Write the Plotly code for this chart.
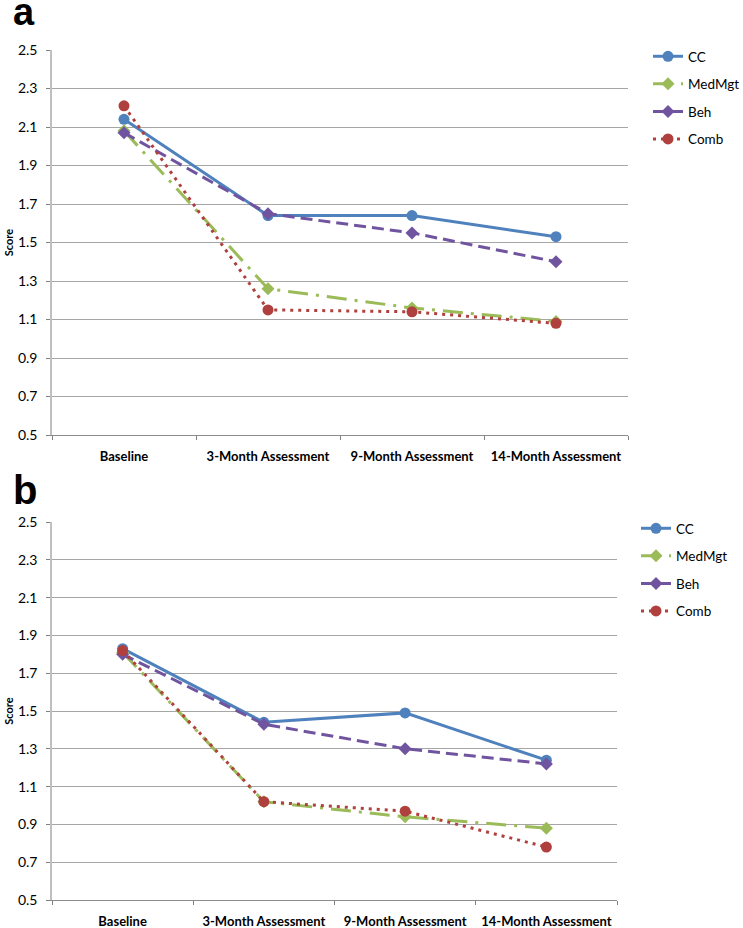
import plotly.graph_objects as go

categories = ["Baseline", "3-Month Assessment", "9-Month Assessment", "14-Month Assessment"]
series_names = ["CC", "MedMgt", "Beh", "Comb"]

a_cc = [2.14, 1.64, 1.64, 1.53]
a_medmgt = [2.08, 1.26, 1.16, 1.09]
a_beh = [2.07, 1.65, 1.55, 1.40]
a_comb = [2.21, 1.15, 1.14, 1.08]

b_cc = [1.83, 1.44, 1.49, 1.24]
b_medmgt = [1.81, 1.02, 0.94, 0.88]
b_beh = [1.80, 1.43, 1.30, 1.22]
b_comb = [1.82, 1.02, 0.97, 0.78]

y_ticks = [0.5, 0.7, 0.9, 1.1, 1.3, 1.5, 1.7, 1.9, 2.1, 2.3, 2.5]

styles = {
    "CC": dict(color="#4F81BD", dash="solid", symbol="circle", msize=11),
    "MedMgt": dict(color="#9BBB59", dash="20px,8px,3px,8px", symbol="diamond", msize=10),
    "Beh": dict(color="#7054A0", dash="12px,6px", symbol="diamond", msize=10),
    "Comb": dict(color="#B0403D", dash="3px,5px", symbol="circle", msize=11),
}

W, H = 743, 928
FONT = "Lato"

fig = go.Figure()

panels = [
    ("x", "y", "legend", [a_cc, a_medmgt, a_beh, a_comb]),
    ("x2", "y2", "legend2", [b_cc, b_medmgt, b_beh, b_comb]),
]
for xa, ya, lg, data in panels:
    for name, vals in zip(series_names, data):
        s = styles[name]
        fig.add_trace(go.Scatter(
            x=categories, y=vals, name=name, mode="lines+markers",
            xaxis=xa, yaxis=ya, legend=lg, legendgroup=name + xa,
            line=dict(color=s["color"], width=3, dash=s["dash"]),
            marker=dict(color=s["color"], symbol=s["symbol"], size=s["msize"]),
        ))

def px_x(v):
    return v / W

def px_y(v):
    return (H - v) / H

grid_col = "#A6A6A6"
axis_col = "#BFBFBF"

def xaxis_cfg(domain, anchor):
    return dict(
        domain=domain, anchor=anchor, type="category", categoryorder="array",
        categoryarray=categories, range=[-0.5, 3.5], tickson="boundaries",
        ticks="outside", ticklen=4, tickcolor="#808080", showgrid=False,
        showline=True, linecolor="#8C8C8C", linewidth=1, zeroline=False,
        tickfont=dict(family=FONT, size=13, color="#000000", weight="bold"),
        ticklabelstandoff=9, automargin=False,
    )

def yaxis_cfg(domain, anchor):
    return dict(
        domain=domain, anchor=anchor, range=[0.5, 2.5], tickvals=y_ticks,
        ticktext=[f"{v:.1f}" for v in y_ticks],
        showgrid=True, gridcolor=grid_col, gridwidth=1,
        showline=True, linecolor=axis_col, linewidth=1.5, zeroline=False,
        ticks="outside", ticklen=4, tickcolor="#808080",
        tickfont=dict(family=FONT, size=14, color="#000000"),
        ticklabelstandoff=6, automargin=False,
        title=dict(text="Score", font=dict(family=FONT, size=11, color="#000000", weight="bold"),
                   standoff=2),
    )

fig.update_layout(
    width=W, height=H,
    margin=dict(l=0, r=0, t=0, b=0, autoexpand=False),
    paper_bgcolor="white", plot_bgcolor="white",
    showlegend=True,
    xaxis=xaxis_cfg([px_x(52), px_x(628)], "y"),
    yaxis=yaxis_cfg([px_y(435), px_y(50)], "x"),
    xaxis2=xaxis_cfg([px_x(52), px_x(617)], "y2"),
    yaxis2=yaxis_cfg([px_y(900), px_y(522)], "x2"),
    legend=dict(x=px_x(648), y=px_y(41), xanchor="left", yanchor="top",
                font=dict(family=FONT, size=13.5, color="#000000"),
                tracegroupgap=7, itemwidth=30, bgcolor="rgba(0,0,0,0)"),
    legend2=dict(x=px_x(636), y=px_y(513), xanchor="left", yanchor="top",
                 font=dict(family=FONT, size=13.5, color="#000000"),
                 tracegroupgap=7, itemwidth=30, bgcolor="rgba(0,0,0,0)"),
    annotations=[
        dict(text="<b>a</b>", x=px_x(11), y=px_y(35), xref="paper", yref="paper",
             xanchor="left", yanchor="bottom", showarrow=False,
             font=dict(family="Liberation Sans", size=38, color="#000000")),
        dict(text="<b>b</b>", x=px_x(11), y=px_y(514), xref="paper", yref="paper",
             xanchor="left", yanchor="bottom", showarrow=False,
             font=dict(family="Liberation Sans", size=40, color="#000000")),
    ],
)

fig.write_html("out.html", config={"displayModeBar": False},
               post_script="document.body.style.margin='0px';")
